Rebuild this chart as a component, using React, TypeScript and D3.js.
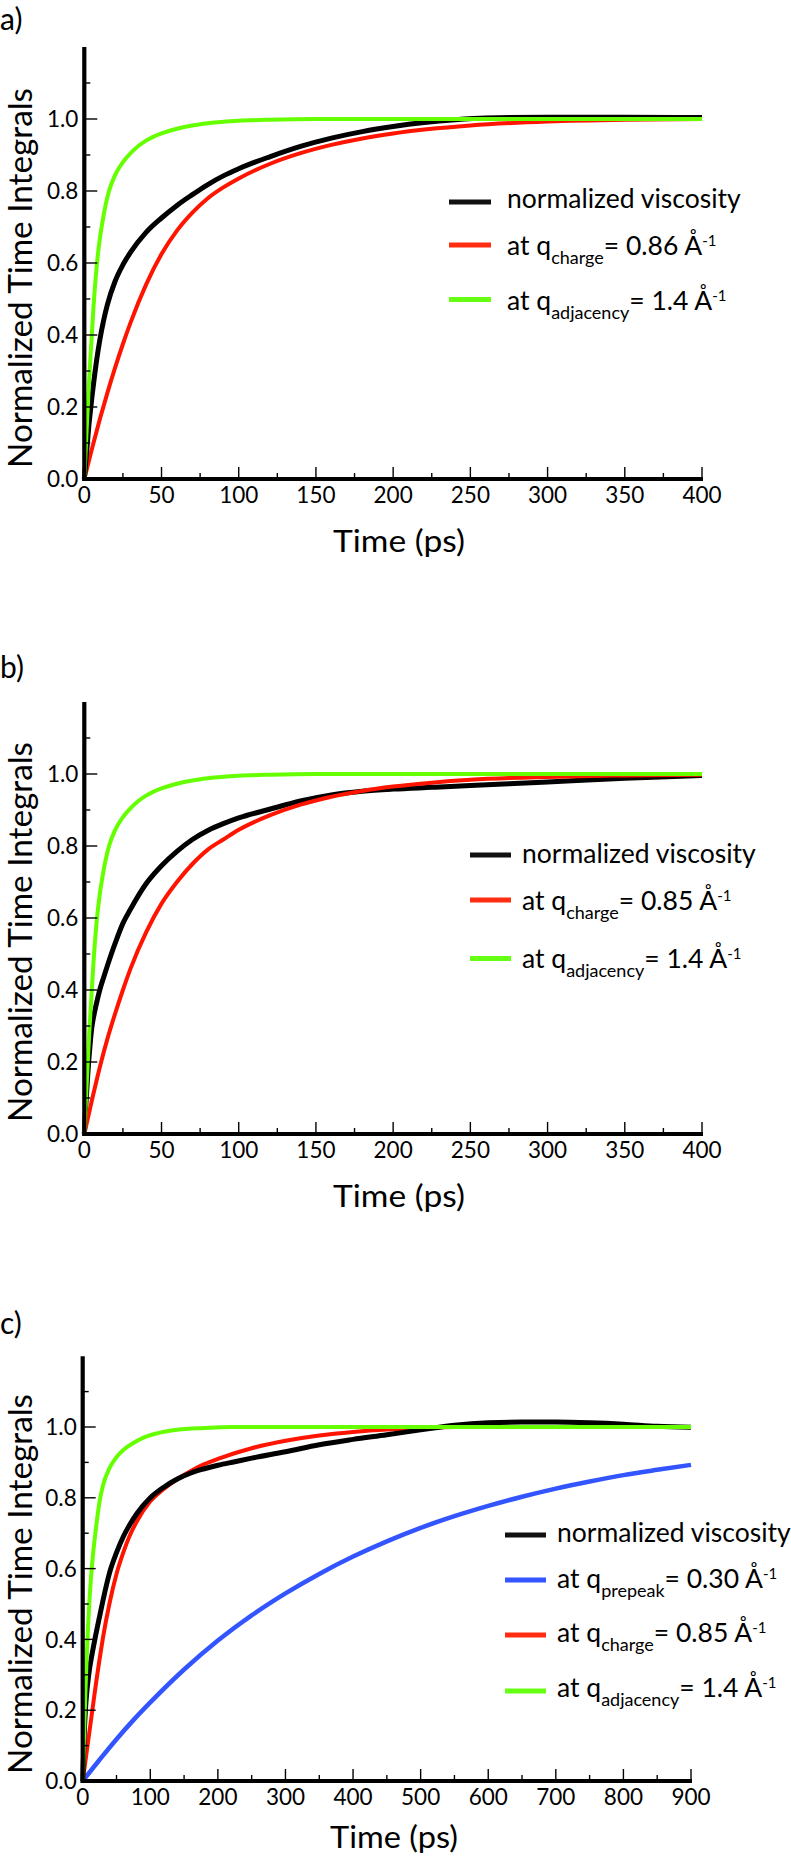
import React from 'react';
import * as d3 from 'd3';

type Pt = [number, number];

// ---------- tick values ----------
const yMajorTicks = [0, 0.2, 0.4, 0.6, 0.8, 1.0];
const yMinorTicks = [0.1, 0.3, 0.5, 0.7, 0.9, 1.1];
const xMajorTicksAB = [0, 50, 100, 150, 200, 250, 300, 350, 400];
const xMinorTicksAB = [25, 75, 125, 175, 225, 275, 325, 375];
const xMajorTicksC = [0, 100, 200, 300, 400, 500, 600, 700, 800, 900];
const xMinorTicksC = [50, 150, 250, 350, 450, 550, 650, 750, 850];

// ---------- panel a ----------
const aViscosity: Pt[] = [[0,0],[1,0.05],[2,0.1],[3,0.15],[4,0.19],[5,0.23],[6,0.265],[8,0.33],[10,0.385],[12.5,0.44],[15,0.485],[20,0.55],[25,0.595],[30,0.63],[40,0.685],[50,0.725],[60,0.76],[70,0.79],[80,0.818],[90,0.842],[100,0.862],[120,0.895],[140,0.924],[160,0.947],[180,0.965],[200,0.979],[220,0.99],[240,0.998],[260,1.003],[300,1.005],[350,1.005],[400,1.004]];
const aCharge: Pt[] = [[0,0],[5,0.085],[10,0.165],[15,0.24],[20,0.31],[25,0.375],[30,0.435],[40,0.54],[50,0.625],[60,0.69],[70,0.74],[80,0.78],[90,0.81],[100,0.835],[120,0.875],[140,0.905],[160,0.928],[180,0.946],[200,0.96],[250,0.982],[300,0.993],[350,0.998],[400,1.0]];
const aAdjacency: Pt[] = [[0,0],[1,0.09],[2,0.18],[3,0.265],[4,0.34],[5,0.41],[6,0.48],[7,0.54],[8,0.59],[10,0.665],[12,0.72],[14,0.765],[16,0.8],[20,0.845],[25,0.88],[30,0.905],[35,0.925],[40,0.94],[50,0.96],[60,0.973],[70,0.982],[80,0.988],[100,0.995],[120,0.998],[150,1.0],[400,1.0]];

// ---------- panel b ----------
const bViscosity: Pt[] = [[0,0],[1,0.08],[2,0.15],[3,0.21],[4,0.26],[5,0.3],[6,0.325],[8,0.365],[10,0.4],[12.5,0.435],[15,0.468],[20,0.53],[25,0.585],[30,0.625],[40,0.695],[50,0.745],[60,0.785],[70,0.818],[80,0.843],[90,0.862],[100,0.878],[120,0.902],[140,0.925],[160,0.942],[180,0.952],[200,0.958],[225,0.963],[250,0.968],[300,0.978],[350,0.988],[400,0.996]];
const bCharge: Pt[] = [[0,0],[5,0.095],[10,0.185],[15,0.265],[20,0.335],[25,0.4],[30,0.46],[40,0.56],[50,0.64],[60,0.7],[70,0.75],[80,0.79],[90,0.818],[100,0.845],[120,0.885],[140,0.915],[160,0.937],[180,0.953],[200,0.965],[225,0.976],[250,0.984],[300,0.992],[350,0.996],[400,0.998]];
const bAdjacency: Pt[] = [[0,0],[1,0.09],[2,0.18],[3,0.265],[4,0.34],[5,0.41],[6,0.48],[7,0.54],[8,0.59],[10,0.665],[12,0.72],[14,0.765],[16,0.8],[20,0.845],[25,0.88],[30,0.905],[35,0.925],[40,0.94],[50,0.96],[60,0.973],[70,0.982],[80,0.988],[100,0.995],[120,0.998],[150,1.0],[400,1.0]];

// ---------- panel c ----------
const cViscosity: Pt[] = [[0,0],[2,0.12],[4,0.2],[6,0.25],[8,0.285],[10,0.315],[14,0.36],[18,0.4],[25,0.465],[30,0.51],[40,0.59],[50,0.645],[60,0.69],[70,0.725],[80,0.755],[100,0.8],[120,0.83],[140,0.853],[160,0.87],[180,0.882],[200,0.892],[225,0.902],[250,0.912],[300,0.93],[350,0.95],[400,0.965],[450,0.978],[500,0.992],[550,1.005],[600,1.012],[650,1.014],[700,1.014],[750,1.012],[800,1.008],[850,1.002],[900,0.999]];
const cPrepeak: Pt[] = [[0,0],[25,0.06],[50,0.118],[75,0.172],[100,0.222],[150,0.315],[200,0.397],[250,0.468],[300,0.53],[350,0.585],[400,0.634],[450,0.677],[500,0.715],[550,0.748],[600,0.777],[650,0.803],[700,0.826],[750,0.846],[800,0.864],[850,0.879],[900,0.893]];
const cCharge: Pt[] = [[0,0],[5,0.07],[10,0.14],[15,0.21],[20,0.28],[25,0.345],[30,0.405],[40,0.505],[50,0.585],[60,0.645],[70,0.695],[80,0.733],[100,0.79],[120,0.825],[140,0.853],[160,0.876],[180,0.895],[200,0.91],[250,0.94],[300,0.961],[350,0.976],[400,0.986],[450,0.993],[500,0.997],[550,1.0],[900,1.0]];
const cAdjacency: Pt[] = [[0,0],[2,0.13],[4,0.25],[6,0.355],[8,0.44],[10,0.51],[12.5,0.58],[15,0.635],[20,0.72],[25,0.79],[30,0.835],[40,0.885],[50,0.915],[60,0.935],[75,0.955],[90,0.97],[110,0.982],[140,0.992],[180,0.997],[220,1.0],[900,1.0]];

// ---------- text ----------
const panelLabels = ['a)', 'b)', 'c)'];
const yTitle = 'Normalized Time Integrals';
const xTitle = 'Time (ps)';
const legendA = [
  { key: 'visc', main: 'normalized viscosity' },
  { key: 'charge', main: 'at q', sub: 'charge', val: '= 0.86 Å' },
  { key: 'adj', main: 'at q', sub: 'adjacency', val: '= 1.4 Å' },
];
const legendB = [
  { key: 'visc', main: 'normalized viscosity' },
  { key: 'charge', main: 'at q', sub: 'charge', val: '= 0.85 Å' },
  { key: 'adj', main: 'at q', sub: 'adjacency', val: '= 1.4 Å' },
];
const legendC = [
  { key: 'visc', main: 'normalized viscosity' },
  { key: 'pre', main: 'at q', sub: 'prepeak', val: '= 0.30 Å' },
  { key: 'charge', main: 'at q', sub: 'charge', val: '= 0.85 Å' },
  { key: 'adj', main: 'at q', sub: 'adjacency', val: '= 1.4 Å' },
];

// ---------- styles ----------
const FONT = "Lato, 'Open Sans', sans-serif";
const curveStyle: Record<string, { color: string; legend: string; width: number }> = {
  visc: { color: '#000000', legend: '#111111', width: 5 },
  charge: { color: '#ff1400', legend: '#ff2e12', width: 4 },
  adj: { color: '#66ff00', legend: '#66ff14', width: 4 },
  pre: { color: '#3355ff', legend: '#3355ff', width: 4.5 },
};

interface PanelCfg {
  label: string;
  labelY: number;
  x0: number; x1: number; xMax: number;
  y0: number; yTop: number;
  xMajor: number[]; xMinor: number[];
  series: { key: string; data: Pt[] }[];
  legend: { key: string; main: string; sub?: string; val?: string }[];
  legLineX: [number, number];
  legTextX: number;
  legBase: number[];
  legLineY: number[];
  yTitleCenter: number;
  xTitleCenter: number;
  xTitleBase: number;
  xTitleLen: number;
}

function Panel({ cfg }: { cfg: PanelCfg }) {
  const x = d3.scaleLinear().domain([0, cfg.xMax]).range([cfg.x0, cfg.x1]);
  const y = d3.scaleLinear().domain([0, 1.2]).range([cfg.y0, cfg.yTop]);
  const line = d3.line<Pt>().x(d => x(d[0])).y(d => y(d[1])).curve(d3.curveMonotoneX);
  const ax = x(0);
  const ay = y(0);
  return (
    <g>
      <text x={0} y={cfg.labelY} fontSize={30} fontFamily={FONT}>{cfg.label}</text>
      {/* curves */}
      {cfg.series.map(s => (
        <path key={s.key} d={line(s.data) || ''} fill="none" stroke={curveStyle[s.key].color}
          strokeWidth={curveStyle[s.key].width} strokeLinejoin="round" strokeLinecap="butt" />
      ))}
      {/* y ticks */}
      {yMajorTicks.map(t => (
        <g key={'ym' + t}>
          <line x1={ax} x2={ax + 13} y1={y(t)} y2={y(t)} stroke="#000" strokeWidth={1.4} />
          <text x={ax - 6} y={y(t)} dy="0.36em" textAnchor="end" fontSize={22.5} fontFamily={FONT}>{t.toFixed(1)}</text>
        </g>
      ))}
      {yMinorTicks.map(t => (
        <line key={'yn' + t} x1={ax} x2={ax + 6} y1={y(t)} y2={y(t)} stroke="#000" strokeWidth={1.4} />
      ))}
      {/* x ticks */}
      {cfg.xMajor.map(t => (
        <g key={'xm' + t}>
          <line x1={x(t)} x2={x(t)} y1={ay} y2={ay - 12} stroke="#000" strokeWidth={1.4} />
          <text x={x(t)} y={ay + 24} textAnchor="middle" fontSize={22.5} fontFamily={FONT}>{t}</text>
        </g>
      ))}
      {cfg.xMinor.map(t => (
        <line key={'xn' + t} x1={x(t)} x2={x(t)} y1={ay} y2={ay - 6} stroke="#000" strokeWidth={1.4} />
      ))}
      {/* axes */}
      <line x1={ax} x2={ax} y1={ay + 2} y2={y(1.2)} stroke="#000" strokeWidth={4.2} />
      <line x1={ax - 2} x2={x(cfg.xMax) + 1} y1={ay} y2={ay} stroke="#000" strokeWidth={4.2} />
      {/* titles */}
      <text transform={`translate(32,${cfg.yTitleCenter}) rotate(-90)`} textAnchor="middle" fontSize={32}
        fontFamily={FONT} textLength={380} lengthAdjust="spacingAndGlyphs">{yTitle}</text>
      <text x={cfg.xTitleCenter} y={cfg.xTitleBase} textAnchor="middle" fontSize={31} fontFamily={FONT}
        textLength={cfg.xTitleLen} lengthAdjust="spacingAndGlyphs">{xTitle}</text>
      {/* legend */}
      {cfg.legend.map((L, i) => (
        <g key={'lg' + L.key}>
          <line x1={cfg.legLineX[0]} x2={cfg.legLineX[1]} y1={cfg.legLineY[i]} y2={cfg.legLineY[i]}
            stroke={curveStyle[L.key].legend} strokeWidth={5} />
          <text x={cfg.legTextX} y={cfg.legBase[i]} fontSize={26.5} fontFamily={FONT}>
            {L.main}
            {L.sub && <tspan fontSize={18} dy={9}>{L.sub}</tspan>}
            {L.val && <tspan fontSize={26.5} dy={-9}>{L.val}</tspan>}
            {L.val && <tspan fontSize={15} dy={-9}>-1</tspan>}
          </text>
        </g>
      ))}
    </g>
  );
}

const panels: PanelCfg[] = [
  {
    label: panelLabels[0], labelY: 30,
    x0: 84.3, x1: 702, xMax: 400, y0: 479, yTop: 47,
    xMajor: xMajorTicksAB, xMinor: xMinorTicksAB,
    series: [{ key: 'charge', data: aCharge }, { key: 'visc', data: aViscosity }, { key: 'adj', data: aAdjacency }],
    legend: legendA, legLineX: [449, 491], legTextX: 507,
    legBase: [207.5, 255, 310], legLineY: [202, 245, 299.5],
    yTitleCenter: 278, xTitleCenter: 399, xTitleBase: 552, xTitleLen: 132,
  },
  {
    label: panelLabels[1], labelY: 678,
    x0: 84.3, x1: 702, xMax: 400, y0: 1134, yTop: 702,
    xMajor: xMajorTicksAB, xMinor: xMinorTicksAB,
    series: [{ key: 'visc', data: bViscosity }, { key: 'charge', data: bCharge }, { key: 'adj', data: bAdjacency }],
    legend: legendB, legLineX: [470, 511], legTextX: 522,
    legBase: [863, 909.5, 968], legLineY: [855, 900, 958.5],
    yTitleCenter: 932, xTitleCenter: 399, xTitleBase: 1207, xTitleLen: 132,
  },
  {
    label: panelLabels[2], labelY: 1334,
    x0: 82.7, x1: 691, xMax: 900, y0: 1781, yTop: 1356.2,
    xMajor: xMajorTicksC, xMinor: xMinorTicksC,
    series: [{ key: 'pre', data: cPrepeak }, { key: 'charge', data: cCharge }, { key: 'visc', data: cViscosity }, { key: 'adj', data: cAdjacency }],
    legend: legendC, legLineX: [505, 546], legTextX: 557,
    legBase: [1542, 1587.5, 1642, 1697], legLineY: [1535, 1580, 1635, 1691],
    yTitleCenter: 1584, xTitleCenter: 394, xTitleBase: 1848, xTitleLen: 128,
  },
];

export default function App() {
  return (
    <svg width={791} height={1859} viewBox="0 0 791 1859"
      style={{ position: 'absolute', left: 0, top: 0, background: '#fff' }}>
      <rect x={0} y={0} width={791} height={1859} fill="#fff" />
      {panels.map(p => <Panel key={p.label} cfg={p} />)}
    </svg>
  );
}
